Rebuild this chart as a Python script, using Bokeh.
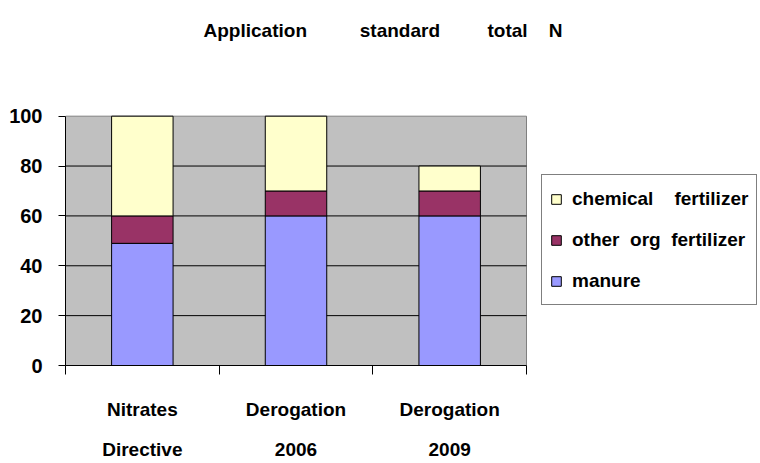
from bokeh.plotting import figure
from bokeh.models import Range1d, FixedTicker, Legend, LegendItem, Label
from bokeh.embed import file_html
from bokeh.resources import INLINE

NB = "\u00a0"
categories = ["Nitrates\nDirective", "Derogation\n2006", "Derogation\n2009"]
manure = [49, 60, 60]
other_org = [11, 10, 10]
chemical = [40, 30, 10]
series_names = ["manure", "other" + NB * 2 + "org" + NB * 2 + "fertilizer",
                "chemical" + NB * 4 + "fertilizer"]
series_colors = ["#9999ff", "#993366", "#ffffcc"]
y_ticks = [0, 20, 40, 60, 80, 100]
y_max = 100
title_text = "Application" + NB * 10 + "standard" + NB * 9 + "total" + NB * 4 + "N"

FONT = "Liberation Sans, Arial"

n = len(categories)
x_pos = [i + 0.5 for i in range(n)]
data = dict(x=x_pos, manure=manure, other=other_org, chemical=chemical)

# The frame spans the plot area plus the room for legend and title,
# so that those annotations are not clipped.
px_per_cat = 153.67
px_per_unit = 2.5
p = figure(width=760, height=463, output_backend="svg", toolbar_location=None,
           x_range=Range1d(0, (760 - 65) / px_per_cat),
           y_range=Range1d(0, 366 / px_per_unit),
           min_border_left=65, min_border_right=0, min_border_top=0,
           min_border_bottom=97, title=None)
p.background_fill_color = "white"
p.border_fill_color = "white"
p.outline_line_color = None

# plot area background
p.quad(left=[0], right=[n], bottom=[y_ticks[0]], top=[y_max],
       fill_color="#c0c0c0", line_color="#808080", line_width=1)
# horizontal grid lines across the plot area
p.segment(x0=[0] * len(y_ticks[1:-1]), x1=[n] * len(y_ticks[1:-1]),
          y0=y_ticks[1:-1], y1=y_ticks[1:-1], line_color="black", line_width=1)

rs = p.vbar_stack(["manure", "other", "chemical"], x="x", width=0.4, source=data,
                  color=series_colors, line_color="black", line_width=1)

# title
p.add_layout(Label(x=(382.5 - 65) / px_per_cat, y=(366 - 30) / px_per_unit,
                   text=title_text, text_align="center", text_baseline="middle",
                   text_font=FONT, text_font_style="bold", text_font_size="19px",
                   text_color="black"))

# y axis
p.yaxis.ticker = FixedTicker(ticks=y_ticks)
p.yaxis.bounds = (0, y_max)
p.yaxis.major_tick_in = 0
p.yaxis.major_tick_out = 7
p.yaxis.minor_tick_line_color = None
p.yaxis.axis_line_color = "black"
p.yaxis.major_label_text_font = FONT
p.yaxis.major_label_text_font_style = "bold"
p.yaxis.major_label_text_font_size = "20px"
p.yaxis.major_label_text_color = "black"
p.yaxis.major_label_standoff = 16

# x axis: labels at category centres, tick marks at category boundaries
p.xaxis.ticker = FixedTicker(ticks=x_pos, minor_ticks=list(range(n + 1)))
p.xaxis.bounds = (0, n)
p.xaxis.major_label_overrides = {x: c for x, c in zip(x_pos, categories)}
p.xaxis.major_tick_in = 0
p.xaxis.major_tick_out = 0
p.xaxis.minor_tick_in = 0
p.xaxis.minor_tick_out = 9
p.xaxis.minor_tick_line_color = "black"
p.xaxis.axis_line_color = "black"
p.xaxis.major_label_text_font = FONT
p.xaxis.major_label_text_font_style = "bold"
p.xaxis.major_label_text_font_size = "19px"
p.xaxis.major_label_text_color = "black"
p.xaxis.major_label_text_line_height = 1.95
p.xaxis.major_label_standoff = 24

p.xgrid.grid_line_color = None
p.ygrid.grid_line_color = None

# legend
items = [LegendItem(label=series_names[i], renderers=[rs[i]]) for i in (2, 1, 0)]
legend = Legend(items=items, location=(476, 60), orientation="vertical")
legend.label_text_font = FONT
legend.label_text_font_style = "bold"
legend.label_text_font_size = "19px"
legend.label_text_color = "black"
legend.glyph_width = 12
legend.glyph_height = 12
legend.label_standoff = 10
legend.label_height = 31
legend.spacing = 10
legend.padding = 8
legend.margin = 0
legend.border_line_color = "black"
legend.border_line_width = 1
legend.background_fill_color = "white"
legend.background_fill_alpha = 1
p.add_layout(legend)

open("out.html", "w").write(file_html(p, INLINE))
